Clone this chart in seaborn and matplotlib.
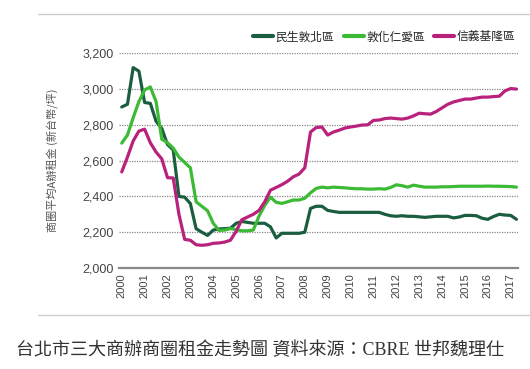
import numpy as np
import pandas as pd
import seaborn as sns
import matplotlib.pyplot as plt
from matplotlib.lines import Line2D

# quarterly, 2000Q1 .. 2017Q2
quarters = [2000 + i / 4 for i in range(70)]

minsheng = [2900, 2915, 3120, 3100, 2925, 2920, 2820, 2780, 2690, 2660,
            2400, 2396, 2360, 2220, 2200, 2182, 2212, 2218, 2220, 2222,
            2250, 2260, 2255, 2250, 2250, 2250, 2230, 2168, 2194, 2194,
            2194, 2194, 2200, 2333, 2345, 2345, 2322, 2316, 2311, 2311,
            2311, 2311, 2311, 2311, 2311, 2311, 2300, 2292, 2289, 2292,
            2289, 2289, 2286, 2283, 2286, 2289, 2289, 2289, 2280, 2285,
            2294, 2294, 2292, 2278, 2272, 2288, 2300, 2296, 2294, 2272]

dunhua = [2698, 2743, 2840, 2930, 2995, 3012, 2930, 2720, 2700, 2670,
          2620, 2590, 2560, 2370, 2345, 2320, 2250, 2210, 2212, 2220,
          2215, 2208, 2208, 2212, 2290, 2350, 2396, 2367, 2361, 2370,
          2380, 2380, 2390, 2420, 2445, 2452, 2448, 2452, 2450, 2448,
          2445, 2443, 2443, 2441, 2441, 2443, 2441, 2450, 2465, 2460,
          2452, 2463, 2457, 2452, 2452, 2452, 2454, 2454, 2455, 2457,
          2457, 2457, 2457, 2457, 2458, 2457, 2457, 2456, 2455, 2452]

xinyi = [2537, 2620, 2710, 2765, 2776, 2700, 2648, 2610, 2505, 2503,
         2300, 2160, 2155, 2130, 2127, 2130, 2138, 2140, 2145, 2155,
         2205, 2270, 2285, 2300, 2322, 2370, 2435, 2450, 2466, 2485,
         2510, 2525, 2560, 2760, 2785, 2788, 2743, 2760, 2770, 2782,
         2788, 2793, 2799, 2800, 2825, 2827, 2835, 2838, 2835, 2832,
         2838, 2850, 2865, 2862, 2860, 2875, 2895, 2915, 2928, 2936,
         2944, 2944, 2950, 2955, 2955, 2958, 2960, 2990, 3003, 3000]

series_names = ['民生敦北區', '敦化仁愛區', '信義基隆區']
colors = ['#1b5e3f', '#3dba35', '#b8227c']
years = list(range(2000, 2018))
yticks = [2000, 2200, 2400, 2600, 2800, 3000, 3200]

df = pd.DataFrame({'quarter': quarters * 3,
                   'rent': minsheng + dunhua + xinyi,
                   'area': [n for n in series_names for _ in quarters]})

sns.set_style('white')
plt.rcParams['font.family'] = ['Noto Sans CJK TC', 'DejaVu Sans']

fig = plt.figure(figsize=(5.3, 3.69), dpi=100)
ax = fig.add_axes([0.2245, 0.2737, 0.7525, 0.5819])

sns.lineplot(data=df, x='quarter', y='rent', hue='area',
             palette=dict(zip(series_names, colors)), linewidth=2.3,
             legend=False, ax=ax)

ax.set_xlim(1999.88, 2017.31)
ax.set_ylim(2000, 3200)
ax.set_yticks(yticks)
ax.set_yticklabels([f'{v:,}' for v in yticks], fontsize=9, color='#444444',
                   family=['Liberation Sans', 'DejaVu Sans'])
ax.set_xticks(years)
ax.set_xticklabels([str(y) for y in years], rotation=90, fontsize=8,
                   color='#444444', family=['Liberation Sans', 'DejaVu Sans'])
ax.tick_params(length=0, pad=4)
ax.yaxis.grid(True, linestyle=(0, (1, 1)), color='#888888', linewidth=0.9)
ax.xaxis.grid(False)
for s in ['top', 'right', 'left']:
    ax.spines[s].set_visible(False)
ax.spines['bottom'].set_color('#888888')
ax.spines['bottom'].set_linewidth(1.6)
ax.set_xlabel('')
ax.set_ylabel('商圈平均A辦租金 (新台幣/坪)', fontsize=8, color='#555555', labelpad=17)

handles = [Line2D([0], [0], color=c, linewidth=3) for c in colors]
fig.legend(handles, series_names, loc='center', bbox_to_anchor=(0.725, 0.9),
           ncol=3, frameon=False, fontsize=8.5, handlelength=1.7,
           handletextpad=0.2, columnspacing=0.8)

# separators and caption
fig.add_artist(Line2D([0.072, 1.0], [0.962, 0.962], color='#cccccc', linewidth=1))
fig.add_artist(Line2D([0.072, 1.0], [0.146, 0.146], color='#cccccc', linewidth=1))
fig.text(0.49, 0.05, '台北市三大商辦商圈租金走勢圖 資料來源：CBRE 世邦魏理仕',
         ha='center', va='center', fontsize=13, color='#333333',
         family=['Liberation Serif', 'Noto Sans CJK TC'])

fig.savefig('out.png', dpi=100)
